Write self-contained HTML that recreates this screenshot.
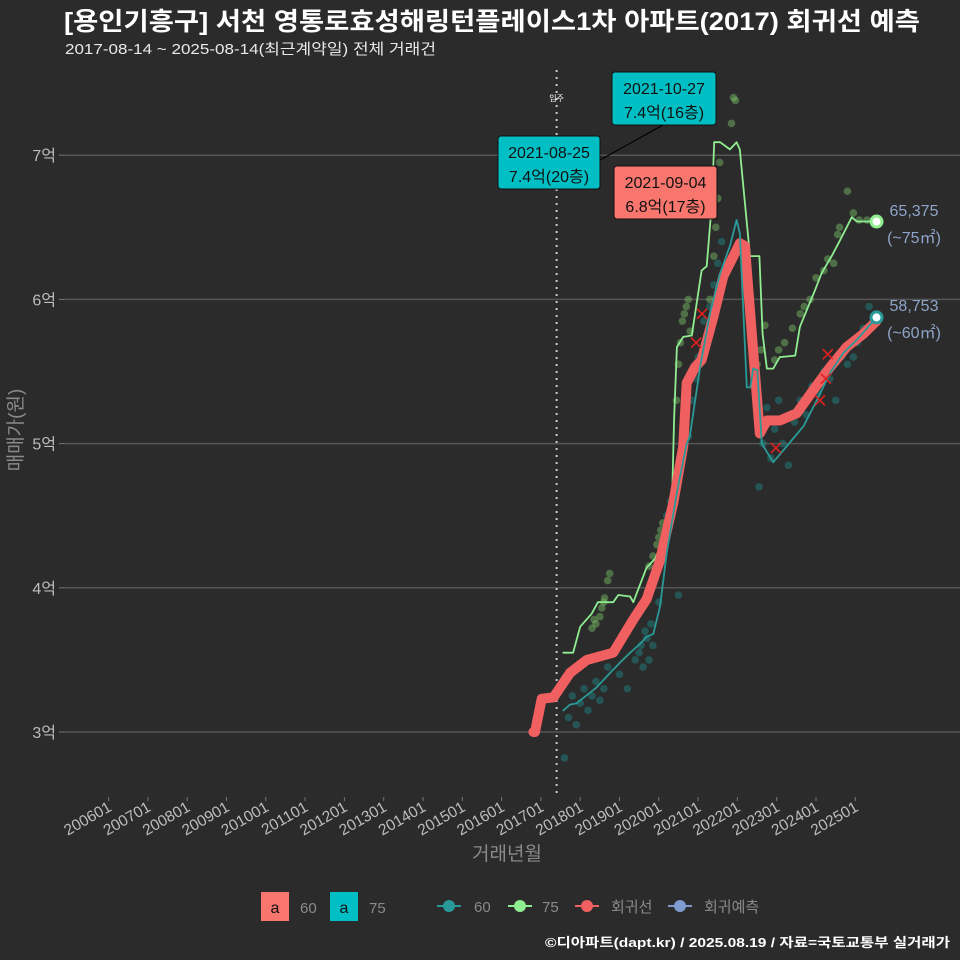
<!DOCTYPE html>
<html><head><meta charset="utf-8">
<style>
html,body{margin:0;padding:0;background:#2b2b2b;}
svg{display:block;font-family:"Liberation Sans","Noto Sans CJK KR",sans-serif;}
</style></head>
<body>
<svg id="chart" width="960" height="960" viewBox="0 0 960 960">
<rect x="0" y="0" width="960" height="960" fill="#2b2b2b"/>
<text x="64" y="30" fill="#ffffff" font-size="25" font-weight="bold" textLength="856" lengthAdjust="spacingAndGlyphs">[용인기흥구] 서천 영통로효성해링턴플레이스1차 아파트(2017) 회귀선 예측</text>
<text x="65" y="54" fill="#e8e8e8" font-size="15" textLength="371" lengthAdjust="spacingAndGlyphs">2017-08-14 ~ 2025-08-14(최근계약일) 전체 거래건</text>
<g id="grid"></g>
<g id="xaxis"></g>
<g id="yaxis"></g>
<g id="marks"></g>
<text x="0" y="0" transform="translate(22,430) rotate(-90)" text-anchor="middle" fill="#8a8a8a" font-size="19">매매가(원)</text>
<text x="507" y="860" text-anchor="middle" fill="#8a8a8a" font-size="19">거래년월</text>
<g>
  <rect x="261" y="892" width="28" height="29" fill="#f8766d"/>
  <text x="275" y="913" text-anchor="middle" fill="#111" font-size="16">a</text>
  <text x="300" y="913" fill="#8a8a8a" font-size="15">60</text>
  <rect x="330" y="892" width="28" height="29" fill="#00bfc4"/>
  <text x="344" y="913" text-anchor="middle" fill="#111" font-size="16">a</text>
  <text x="369" y="913" fill="#8a8a8a" font-size="15">75</text>
  <line x1="437" y1="906" x2="461" y2="906" stroke="#2a9a98" stroke-width="2"/>
  <circle cx="449" cy="906" r="6" fill="#2a9a98"/>
  <text x="474" y="912" fill="#8a8a8a" font-size="15">60</text>
  <line x1="508" y1="906" x2="532" y2="906" stroke="#90ee90" stroke-width="2"/>
  <circle cx="520" cy="906" r="6" fill="#90ee90"/>
  <text x="542" y="912" fill="#8a8a8a" font-size="15">75</text>
  <line x1="575" y1="906" x2="599" y2="906" stroke="#f06060" stroke-width="2"/>
  <circle cx="587" cy="906" r="6" fill="#f06060"/>
  <text x="611" y="912" fill="#8a8a8a" font-size="15">회귀선</text>
  <line x1="668" y1="906" x2="692" y2="906" stroke="#7f9cd0" stroke-width="2"/>
  <circle cx="680" cy="906" r="6" fill="#7f9cd0"/>
  <text x="704" y="912" fill="#8a8a8a" font-size="15">회귀예측</text>
</g>
<text x="950" y="947" text-anchor="end" fill="#ffffff" font-size="13" font-weight="bold" textLength="405" lengthAdjust="spacingAndGlyphs">©디아파트(dapt.kr) / 2025.08.19 / 자료=국토교통부 실거래가</text>
</svg>
<script>
// ---- data ----
const xTickYears = [2006,2007,2008,2009,2010,2011,2012,2013,2014,2015,2016,2017,2018,2019,2020,2021,2022,2023,2024,2025];
const xTickLabels = ["200601","200701","200801","200901","201001","201101","201201","201301","201401","201501","201601","201701","201801","201901","202001","202101","202201","202301","202401","202501"];
const yTickValues = [3,4,5,6,7];
const yTickLabels = ["3억","4억","5억","6억","7억"];

const s75Dates = [2017.57,2017.82,2018.0,2018.29,2018.45,2018.84,2018.97,2019.27,2019.35,2019.69,2019.9,2020.2,2020.33,2020.39,2020.46,2020.62,2020.84,2021.09,2021.22,2021.35,2021.41,2021.56,2021.81,2021.98,2022.06,2022.32,2022.56,2022.64,2022.75,2022.91,2023.08,2023.47,2023.59,2023.97,2024.14,2024.4,2024.61,2024.91,2025.04,2025.54];
const s75Values = [3.55,3.55,3.73,3.82,3.9,3.9,3.95,3.94,3.9,4.14,4.2,4.38,4.54,5.17,5.67,5.74,5.75,6.2,6.23,6.67,7.09,7.09,7.04,7.09,7.04,6.3,6.3,5.76,5.52,5.52,5.6,5.61,5.81,6.06,6.18,6.3,6.41,6.57,6.54,6.54];

const s60Dates = [2017.57,2017.74,2017.91,2018.42,2018.76,2019.01,2019.27,2019.52,2019.69,2019.86,2020.03,2020.2,2020.46,2020.71,2020.79,2021.05,2021.3,2021.56,2021.81,2021.98,2022.06,2022.24,2022.33,2022.4,2022.51,2022.62,2022.91,2023.25,2023.68,2024.02,2024.36,2024.7,2025.04,2025.54];
const s60Values = [3.15,3.19,3.2,3.31,3.41,3.48,3.55,3.61,3.66,3.68,3.87,4.24,4.66,5.0,5.05,5.53,5.9,6.18,6.37,6.55,6.46,5.39,5.39,5.52,5.51,5.0,4.87,4.98,5.12,5.3,5.49,5.63,5.72,5.875];

const regDates = [2016.81,2016.85,2017.02,2017.32,2017.74,2018.17,2018.84,2019.35,2019.69,2020.03,2020.37,2020.62,2020.71,2020.92,2021.09,2021.39,2021.64,2021.9,2022.06,2022.19,2022.4,2022.57,2022.75,2023.08,2023.51,2023.93,2024.36,2024.78,2025.2,2025.54];
const regValues = [3.0,3.0,3.23,3.24,3.41,3.5,3.55,3.78,3.92,4.19,4.59,4.98,5.42,5.53,5.58,5.88,6.16,6.3,6.39,6.37,5.65,5.07,5.16,5.16,5.21,5.37,5.53,5.67,5.76,5.85];

const pts75Dates = [2018.3,2018.35,2018.4,2018.5,2018.55,2018.6,2018.62,2018.7,2018.75,2019.75,2019.85,2019.95,2020.0,2020.05,2020.1,2020.45,2020.5,2020.55,2020.6,2020.65,2020.7,2020.75,2020.8,2021.3,2021.4,2021.45,2021.5,2021.55,2021.85,2021.9,2021.95,2022.5,2022.6,2022.7,2022.95,2023.05,2023.2,2023.4,2023.6,2023.7,2023.85,2024.0,2024.2,2024.3,2024.45,2024.55,2024.6,2024.8,2024.95,2025.1,2025.3];
const pts75Values = [3.72,3.78,3.75,3.8,3.86,3.9,3.93,4.05,4.1,4.15,4.22,4.3,4.35,4.4,4.45,5.3,5.55,5.7,5.85,5.9,5.95,6.0,5.78,6.0,6.3,6.5,6.7,6.95,7.22,7.4,7.38,5.55,5.65,5.82,5.58,5.65,5.7,5.8,5.9,5.95,6.0,6.15,6.2,6.28,6.25,6.45,6.5,6.75,6.6,6.55,6.55];

const pts60Dates = [2017.6,2017.7,2017.8,2017.9,2018.0,2018.1,2018.2,2018.3,2018.4,2018.5,2018.6,2018.7,2019.0,2019.2,2019.4,2019.5,2019.55,2019.6,2019.65,2019.7,2019.75,2019.8,2019.85,2020.0,2020.1,2020.2,2020.3,2020.5,2020.55,2020.75,2020.85,2020.95,2021.0,2021.15,2021.3,2021.4,2021.5,2021.6,2021.7,2022.55,2022.65,2022.75,2022.85,2022.95,2023.05,2023.15,2023.3,2023.45,2023.6,2023.75,2023.9,2024.05,2024.2,2024.35,2024.5,2024.65,2024.8,2024.95,2025.05,2025.2,2025.35];
const pts60Values = [2.82,3.1,3.25,3.05,3.2,3.3,3.15,3.25,3.35,3.22,3.3,3.45,3.4,3.3,3.5,3.55,3.6,3.45,3.7,3.65,3.5,3.75,3.6,3.9,4.2,4.5,4.6,3.95,4.85,5.05,5.3,5.45,5.6,5.85,5.95,6.1,6.25,6.4,6.2,4.7,5.0,5.25,4.9,5.1,5.3,5.0,4.85,5.15,5.3,5.2,5.4,5.35,5.5,5.45,5.3,5.6,5.55,5.6,5.7,5.8,5.95];

const xMarkDates = [2020.95,2021.1,2022.98,2024.1,2024.3,2024.25];
const xMarkValues = [5.7,5.9,4.97,5.3,5.62,5.45];

// ---- scales ----
function xs(yr){ return 108.6 + (yr - 2006) * 39.3; }
function ys(v){ return 732 - (v - 3) * 144.2; }
const NS = "http://www.w3.org/2000/svg";
function mk(tag, attrs, parent){ const e = document.createElementNS(NS, tag); for (const k in attrs) e.setAttribute(k, attrs[k]); parent.appendChild(e); return e; }

const grid = document.getElementById('grid');
const xaxis = document.getElementById('xaxis');
const yaxis = document.getElementById('yaxis');
const marks = document.getElementById('marks');

yTickValues.forEach((v, i) => {
  const g = mk('line', {x1:64, x2:960, y1:ys(v), y2:ys(v), stroke:'#555555', 'stroke-width':1.5}, grid);
  
  
  const t = mk('line', {x1:59, x2:64, y1:ys(v), y2:ys(v), stroke:'#777', 'stroke-width':1}, yaxis);
  
  
  const l = mk('text', {x:56, y:ys(v)+6, 'text-anchor':'end', fill:'#bdbdbd', 'font-size':16}, yaxis);
  l.textContent = yTickLabels[i];
  
  
});

xTickYears.forEach((yr, i) => {
  const x = xs(yr);
  const t = mk('line', {x1:x, x2:x, y1:797, y2:801, stroke:'#777', 'stroke-width':1}, xaxis);
  
  
  const l = mk('text', {x:0, y:0, 'text-anchor':'end', fill:'#bdbdbd', 'font-size':15.5, transform:`translate(${x+4},${810}) rotate(-30)`}, xaxis);
  l.textContent = xTickLabels[i];
  
  
});

// move-in line
const mv = mk('line', {x1:xs(2017.4), x2:xs(2017.4), y1:70, y2:797, stroke:'#cccccc', 'stroke-width':2, 'stroke-dasharray':'2,5'}, marks);


const mvt = mk('text', {x:xs(2017.4), y:101, 'text-anchor':'middle', fill:'#fff', 'font-size':8}, marks);
mvt.textContent = '입주';



function dots(ds, vs, color, name){
  ds.forEach((d, i) => {
    const c = mk('circle', {cx:xs(d), cy:ys(vs[i]), r:3.8, fill:color, 'fill-opacity':0.45}, marks);
    
    
  });
}
dots(pts60Dates, pts60Values, '#1f8a88', 'point-60');
dots(pts75Dates, pts75Values, '#7cc46a', 'point-75');

function line(ds, vs, color, w, name){
  const p = ds.map((d, i) => (i ? 'L' : 'M') + xs(d).toFixed(1) + ',' + ys(vs[i]).toFixed(1)).join('');
  const e = mk('path', {d:p, fill:'none', stroke:color, 'stroke-width':w, 'stroke-linejoin':'round', 'stroke-linecap':'round'}, marks);
  
  
}
line(s75Dates, s75Values, '#90ee90', 1.8, 'line-75');
line(regDates, regValues, '#f06060', 10, 'regression-line');
line(s60Dates, s60Values, '#2a9a98', 1.8, 'line-60');

xMarkDates.forEach((d, i) => {
  const x = xs(d), y = ys(xMarkValues[i]);
  const e = mk('path', {d:`M${x-5},${y-5}L${x+5},${y+5}M${x-5},${y+5}L${x+5},${y-5}`, stroke:'#e02020', 'stroke-width':1.6}, marks);
  
  
});

// endpoints
const e75 = mk('circle', {cx:xs(2025.54), cy:ys(6.54), r:5.5, fill:'#ffffff', stroke:'#90ee90', 'stroke-width':3}, marks);


const e60 = mk('circle', {cx:xs(2025.54), cy:ys(5.875), r:5.5, fill:'#ffffff', stroke:'#2a9a98', 'stroke-width':3}, marks);



// annotation connector
const cn = mk('path', {d:'M600,160 L690,110 L715,97', stroke:'#000', 'stroke-width':1.2, fill:'none'}, marks);



function box(x, y, w, h, fill, l1, l2, name){
  const g = mk('g', {}, marks);
  
  
  mk('rect', {x:x, y:y, width:w, height:h, rx:3, fill:fill, stroke:'#111', 'stroke-width':1}, g);
  const t1 = mk('text', {x:x+w/2, y:y+22, 'text-anchor':'middle', fill:'#111', 'font-size':16}, g);
  t1.textContent = l1;
  const t2 = mk('text', {x:x+w/2, y:y+46, 'text-anchor':'middle', fill:'#111', 'font-size':16}, g);
  t2.textContent = l2;
}
box(612, 72, 104, 53, '#00bfc4', '2021-10-27', '7.4억(16층)', 'annotation-max-75');
box(498, 136, 102, 53, '#00bfc4', '2021-08-25', '7.4억(20층)', 'annotation-max-60');
box(614, 166, 103, 53, '#f8766d', '2021-09-04', '6.8억(17층)', 'annotation-regression-peak');

function lab(x, y, txt, name){
  const t = mk('text', {x:x, y:y, 'text-anchor':'middle', fill:'#8ea4c8', 'font-size':16}, marks);
  t.textContent = txt;
  
  
}
lab(914, 216, '65,375', 'end-label-75-price');
lab(914, 243, '(~75㎡)', 'end-label-75-area');
lab(914, 311, '58,753', 'end-label-60-price');
lab(914, 338, '(~60㎡)', 'end-label-60-area');
</script>
</body></html>
